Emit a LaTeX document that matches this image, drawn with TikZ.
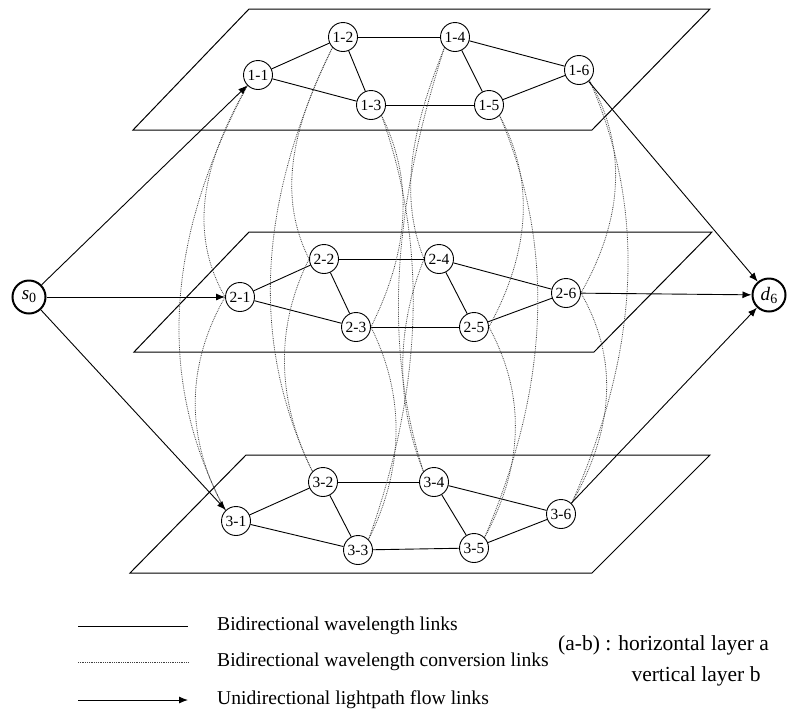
\documentclass[tikz,border=0pt]{standalone}
\usepackage{fontspec}
\setmainfont{Liberation Serif}
\usetikzlibrary{arrows.meta}
\pgfdeclarelayer{background}
\pgfsetlayers{background,main}
\begin{document}
\begin{tikzpicture}[x=1pt,y=-1pt,
  nd/.style={circle,draw,fill=white,line width=0.9pt,minimum size=29pt,inner sep=0pt,font=\fontsize{15.5}{15.5}\selectfont},
  term/.style={circle,draw,fill=white,line width=2pt,minimum size=33pt,inner sep=0pt,font=\fontsize{19}{19}\selectfont},
  plane/.style={draw,line width=1pt},
  lk/.style={line width=0.9pt},
  conv/.style={densely dotted,line width=0.8pt,black!75},
  flow/.style={line width=0.9pt,-{Latex[length=9pt,width=7pt]}},
  lgd/.style={font=\fontsize{19.6}{19.6}\selectfont,anchor=west,inner sep=0pt},
  lgdr/.style={font=\fontsize{21.5}{21.5}\selectfont,inner sep=0pt}]
\useasboundingbox (0,0) rectangle (787,721);

% nodes
\node[term] (s0) at (29,297) {\textit{s}\raisebox{-0.35ex}{\fontsize{14}{14}\selectfont 0}};
\node[term] (d6) at (769,295) {\textit{d}\raisebox{-0.35ex}{\fontsize{14}{14}\selectfont 6}};

\node[nd] (n11) at (258,75) {1-1};
\node[nd] (n12) at (343,37) {1-2};
\node[nd] (n13) at (371,105) {1-3};
\node[nd] (n14) at (455,37) {1-4};
\node[nd] (n15) at (489,105) {1-5};
\node[nd] (n16) at (579,70) {1-6};

\node[nd] (n21) at (240,297) {2-1};
\node[nd] (n22) at (324,259) {2-2};
\node[nd] (n23) at (356,327) {2-3};
\node[nd] (n24) at (439,259) {2-4};
\node[nd] (n25) at (474,327) {2-5};
\node[nd] (n26) at (566,293) {2-6};

\node[nd] (n31) at (236,521) {3-1};
\node[nd] (n32) at (323,482) {3-2};
\node[nd] (n33) at (358,550) {3-3};
\node[nd] (n34) at (434,482) {3-4};
\node[nd] (n35) at (474,548) {3-5};
\node[nd] (n36) at (561,514) {3-6};

\begin{pgfonlayer}{background}
% planes
\draw[plane] (133,130) -- (249,9) -- (710,9) -- (592,130) -- cycle;
\draw[plane] (134,352) -- (249,232) -- (712,232) -- (594,352) -- cycle;
\draw[plane] (130,573) -- (246,455) -- (710,455) -- (592,573) -- cycle;

% wavelength links
\foreach \L in {1,2,3}{
  \draw[lk] (n\L1) -- (n\L2);
  \draw[lk] (n\L1) -- (n\L3);
  \draw[lk] (n\L2) -- (n\L3);
  \draw[lk] (n\L2) -- (n\L4);
  \draw[lk] (n\L3) -- (n\L5);
  \draw[lk] (n\L4) -- (n\L5);
  \draw[lk] (n\L4) -- (n\L6);
  \draw[lk] (n\L5) -- (n\L6);
}

% conversion links (left bulging columns)
\draw[conv] (n11.south west) .. controls +(-75,140) and +(-75,-140) .. (n31.north west);
\draw[conv] (n11.south west) .. controls +(-40,70) and +(-40,-70) .. (n21.west);
\draw[conv] (n21.west) .. controls +(-40,70) and +(-40,-70) .. (n31.north west);

\draw[conv] (n12.south west) .. controls +(-68,140) and +(-68,-140) .. (n32.north west);
\draw[conv] (n12.south west) .. controls +(-35,70) and +(-35,-70) .. (n22.west);
\draw[conv] (n22.west) .. controls +(-35,70) and +(-35,-70) .. (n32.north west);

\draw[conv] (n14.south west) .. controls +(-45,140) and +(-45,-140) .. (n34.north west);
\draw[conv] (n14.south west) .. controls +(-28,70) and +(-28,-70) .. (n24.west);
\draw[conv] (n24.west) .. controls +(-28,70) and +(-28,-70) .. (n34.north west);

% conversion links (right bulging columns)
\draw[conv] (n13.south east) .. controls +(50,140) and +(50,-140) .. (n33.north east);
\draw[conv] (n13.south east) .. controls +(35,70) and +(35,-70) .. (n23.east);
\draw[conv] (n23.east) .. controls +(35,70) and +(35,-70) .. (n33.north east);

\draw[conv] (n15.south east) .. controls +(60,140) and +(60,-140) .. (n35.north east);
\draw[conv] (n15.south east) .. controls +(38,70) and +(38,-70) .. (n25.east);
\draw[conv] (n25.east) .. controls +(38,70) and +(38,-70) .. (n35.north east);

\draw[conv] (n16.south east) .. controls +(62,140) and +(62,-140) .. (n36.north east);
\draw[conv] (n16.south east) .. controls +(40,70) and +(40,-70) .. (n26.east);
\draw[conv] (n26.east) .. controls +(40,70) and +(40,-70) .. (n36.north east);

% flow links
\draw[flow] (s0) -- (n11);
\draw[flow] (s0) -- (n21);
\draw[flow] (s0) -- (n31);
\draw[flow] (n16) -- (d6);
\draw[flow] (n26) -- (d6);
\draw[flow] (n36) -- (d6);

% legend
\coordinate (la1) at (78,626); \coordinate (lb1) at (188,626);
\coordinate (la2) at (78,662); \coordinate (lb2) at (188,662);
\coordinate (la3) at (78,700); \coordinate (lb3) at (188,700);
\draw[lk] (la1) -- (lb1);
\draw[conv] (la2) -- (lb2);
\draw[flow] (la3) -- (lb3);
\end{pgfonlayer}

\node[lgd] (t1) at (217,626) {Bidirectional wavelength links};
\node[lgd] (t2) at (217,662) {Bidirectional wavelength conversion links};
\node[lgd] (t3) at (217,700) {Unidirectional lightpath flow links};
\node[lgdr,anchor=west] (t4) at (558,645) {(a-b) : horizontal layer a};
\node[lgdr] (t5) at (696,676) {vertical layer b};
\end{tikzpicture}
\end{document}
